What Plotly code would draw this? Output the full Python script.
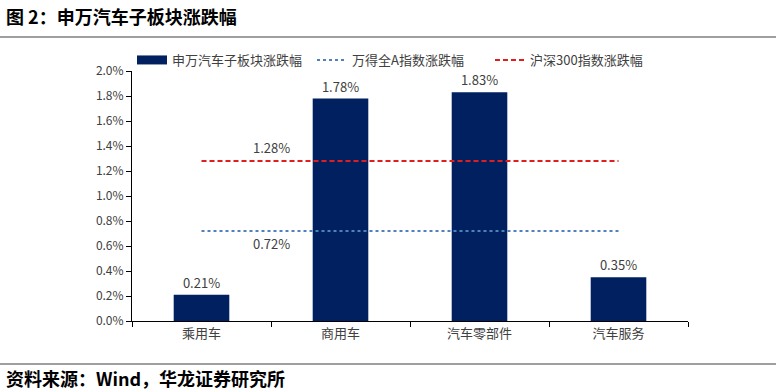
import plotly.graph_objects as go

categories = ["乘用车", "商用车", "汽车零部件", "汽车服务"]
sw_values = [0.21, 1.78, 1.83, 0.35]
wind_a_value = 0.72
hs300_value = 1.28
y_ticks = [0.0, 0.2, 0.4, 0.6, 0.8, 1.0, 1.2, 1.4, 1.6, 1.8, 2.0]
y_tick_labels = [f"{v:.1f}%" for v in y_ticks]

W, H = 776, 392
L, R, T, B = 132, 88, 71, 71
PW, PH = W - L - R, H - T - B

def px(x):
    return (x - L) / PW

def py(y):
    return 1 - (y - T) / PH

FONT = "Noto Sans CJK SC"
GRAY = "#404040"
NAVY = "#002060"

fig = go.Figure()
fig.add_trace(go.Bar(
    x=categories, y=sw_values, name="申万汽车子板块涨跌幅",
    marker=dict(color=NAVY, line=dict(width=0)), width=0.4,
    text=[f"{v:.2f}%" for v in sw_values], textposition="outside",
    textfont=dict(size=13, color=GRAY, family=FONT), cliponaxis=False,
    showlegend=False,
))
# legend-only entry for the bar series (wide rectangle swatch)
fig.add_trace(go.Scatter(
    x=[None], y=[None], mode="lines", name="申万汽车子板块涨跌幅",
    line=dict(color=NAVY, width=9), legend="legend", showlegend=True,
))
fig.add_trace(go.Scatter(
    x=categories, y=[wind_a_value] * len(categories), mode="lines",
    name="万得全A指数涨跌幅", line=dict(color="#4F81BD", width=2, dash="dot"),
    legend="legend2", showlegend=True,
))
fig.add_trace(go.Scatter(
    x=categories, y=[hs300_value] * len(categories), mode="lines",
    name="沪深300指数涨跌幅", line=dict(color="#E01E1E", width=2, dash="5px,3px"),
    legend="legend3", showlegend=True,
))

ann = []
ann.append(dict(x=0.5, y=hs300_value, xref="x", yref="y", text=f"{hs300_value:.2f}%",
                showarrow=False, yshift=14, font=dict(size=13, color=GRAY, family=FONT)))
ann.append(dict(x=0.5, y=wind_a_value, xref="x", yref="y", text=f"{wind_a_value:.2f}%",
                showarrow=False, yshift=-12, font=dict(size=13, color=GRAY, family=FONT)))
ann.append(dict(x=px(4), y=py(16), xref="paper", yref="paper", xanchor="left", yanchor="middle",
                text="<b>图 2：申万汽车子板块涨跌幅</b>", showarrow=False,
                font=dict(size=18, color="#000000", family=FONT)))
ann.append(dict(x=px(4), y=py(378), xref="paper", yref="paper", xanchor="left", yanchor="middle",
                text="<b>资料来源：Wind，华龙证券研究所</b>", showarrow=False,
                font=dict(size=18, color="#000000", family=FONT)))

shapes = [
    dict(type="line", xref="paper", yref="paper", x0=px(0), x1=px(W), y0=py(37), y1=py(37),
         line=dict(color="#7F7F7F", width=1.5)),
    dict(type="line", xref="paper", yref="paper", x0=px(0), x1=px(W), y0=py(364), y1=py(364),
         line=dict(color="#7F7F7F", width=1.5)),
]

leg_font = dict(size=13, color=GRAY, family=FONT)
fig.update_layout(
    width=W, height=H,
    margin=dict(l=L, r=R, t=T, b=B),
    paper_bgcolor="white", plot_bgcolor="white",
    showlegend=True,
    annotations=ann, shapes=shapes,
    legend=dict(x=px(132), y=py(60), xanchor="left", yanchor="middle", orientation="h",
                font=leg_font, bgcolor="rgba(0,0,0,0)", itemwidth=30),
    legend2=dict(x=px(312), y=py(60), xanchor="left", yanchor="middle", orientation="h",
                 font=leg_font, bgcolor="rgba(0,0,0,0)", itemwidth=30),
    legend3=dict(x=px(490), y=py(60), xanchor="left", yanchor="middle", orientation="h",
                 font=leg_font, bgcolor="rgba(0,0,0,0)", itemwidth=30),
    xaxis=dict(
        type="category", showline=True, linecolor="#000000", linewidth=1,
        ticks="outside", tickson="boundaries", ticklen=5, tickcolor="#000000",
        tickfont=dict(size=13, color=GRAY, family=FONT), showgrid=False,
        range=[-0.5, 3.5],
    ),
    yaxis=dict(
        range=[0, 2.0], tickvals=y_ticks, ticktext=y_tick_labels,
        showline=True, linecolor="#000000", linewidth=1,
        ticks="outside", ticklen=5, tickcolor="#000000",
        tickfont=dict(size=12, color=GRAY, family=FONT), showgrid=False, zeroline=False,
    ),
)

fig.write_html("out.html")
